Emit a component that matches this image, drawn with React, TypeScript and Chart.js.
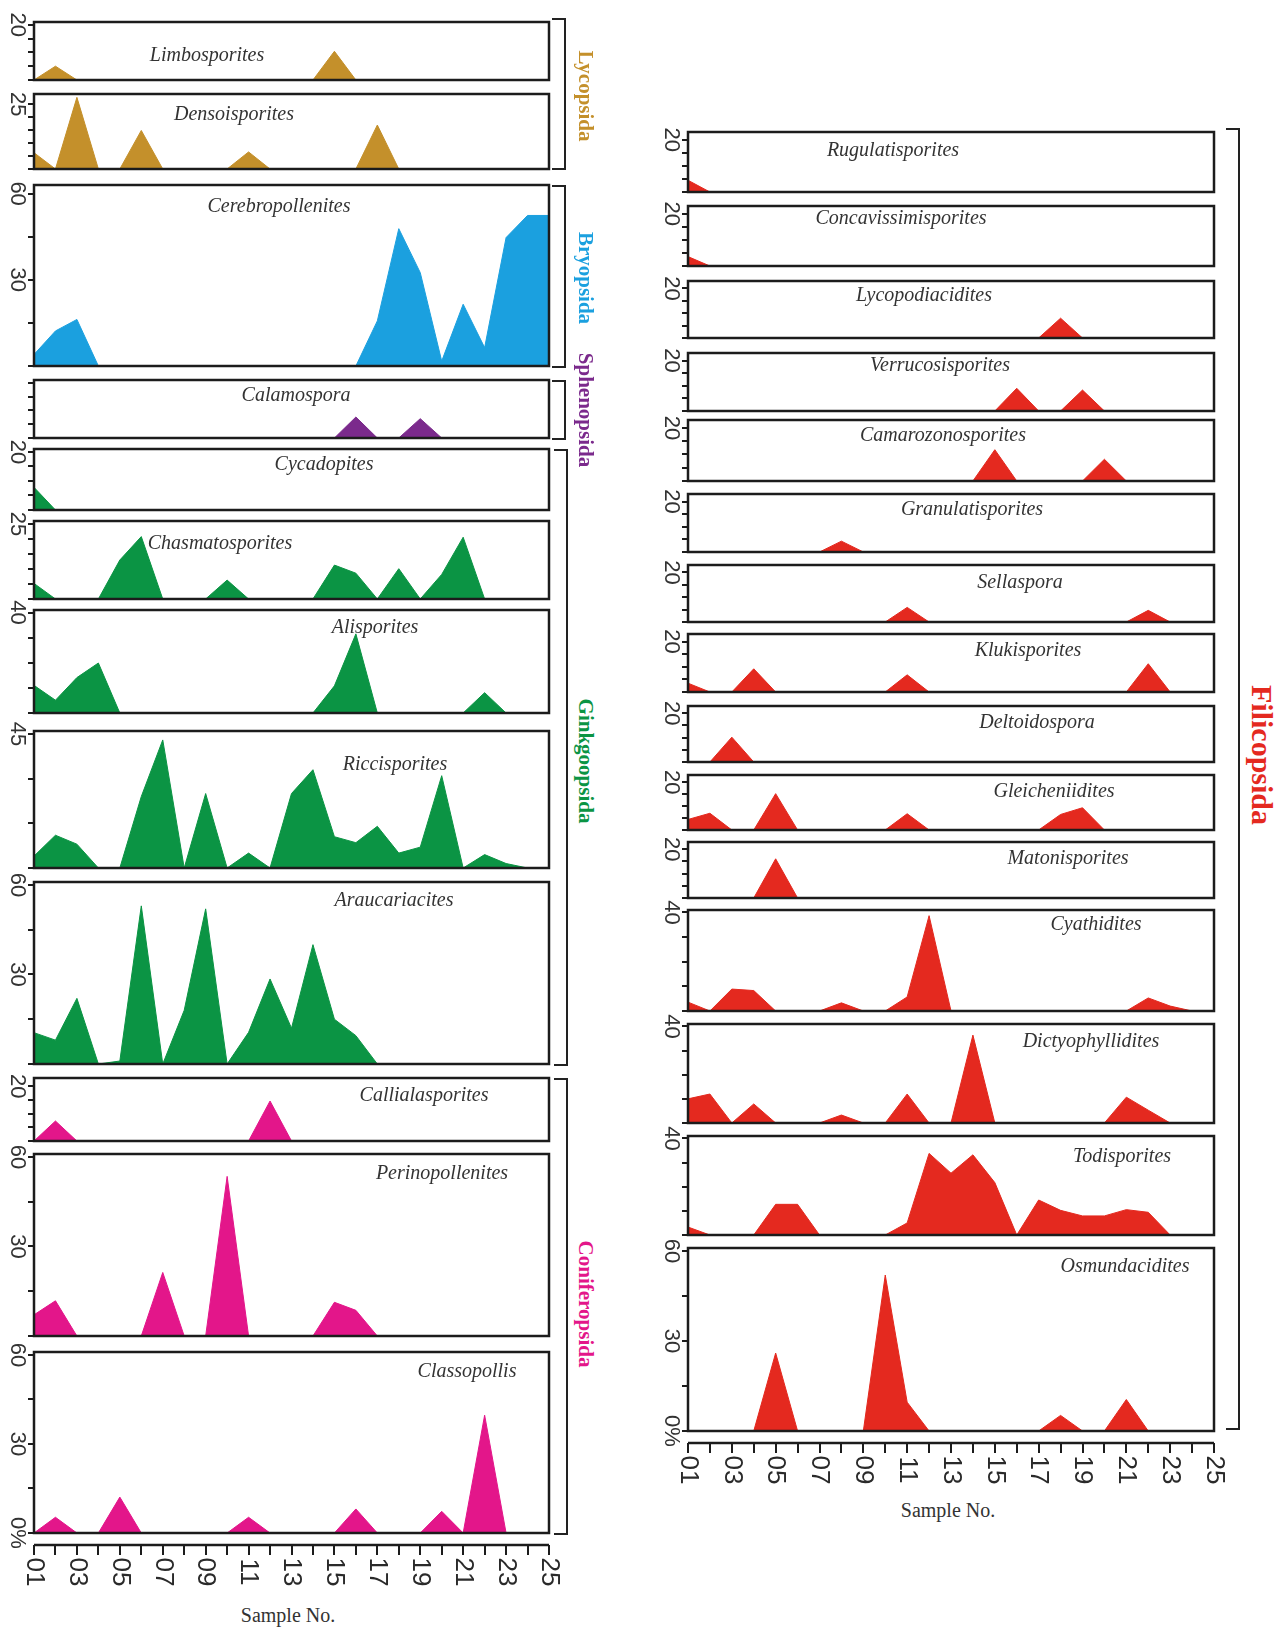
import React, { useEffect, useRef } from "react";
import { Chart, registerables } from "chart.js";

Chart.register(...registerables);

// ---------------- data ----------------
const sampleNumbers = [1, 2, 3, 4, 5, 6, 7, 8, 9, 10, 11, 12, 13, 14, 15, 16, 17, 18, 19, 20, 21, 22, 23, 24, 25];
const xTickSamples = [1, 3, 5, 7, 9, 11, 13, 15, 17, 19, 21, 23, 25];
const xTickLabels = ["01", "03", "05", "07", "09", "11", "13", "15", "17", "19", "21", "23", "25"];

// Lycopsida
const limbosporites = [0, 5, 0, 0, 0, 0, 0, 0, 0, 0, 0, 0, 0, 0, 10.4, 0, 0, 0, 0, 0, 0, 0, 0, 0, 0];
const densoisporites = [6.3, 0, 27.7, 0, 0, 14.9, 0, 0, 0, 0, 6.6, 0, 0, 0, 0, 0, 17, 0, 0, 0, 0, 0, 0, 0, 0];
// Bryopsida
const cerebropollenites = [4, 12.2, 16.2, 0, 0, 0, 0, 0, 0, 0, 0, 0, 0, 0, 0, 0, 15.7, 47.8, 32.5, 1.7, 21.5, 6.4, 44.7, 52.4, 52.4];
// Sphenopsida
const calamospora = [0, 0, 0, 0, 0, 0, 0, 0, 0, 0, 0, 0, 0, 0, 0, 7.6, 0, 0, 7, 0, 0, 0, 0, 0, 0];
// Ginkgoopsida
const cycadopites = [7.8, 0, 0, 0, 0, 0, 0, 0, 0, 0, 0, 0, 0, 0, 0, 0, 0, 0, 0, 0, 0, 0, 0, 0, 0];
const chasmatosporites = [5.2, 0, 0, 0, 13, 20.8, 0, 0, 0, 6.3, 0, 0, 0, 0, 11.3, 8.6, 0, 10.1, 0, 8.2, 20.6, 0, 0, 0, 0];
const alisporites = [11, 5.1, 14.1, 19.9, 0, 0, 0, 0, 0, 0, 0, 0, 0, 0, 10.8, 31.5, 0, 0, 0, 0, 0, 8.1, 0, 0, 0];
const riccisporites = [4, 11, 8, 0, 0, 24, 43, 0, 25, 0, 5, 0, 25, 33, 10.5, 8.5, 14, 5, 7, 31, 0, 4.5, 1.5, 0, 0];
const araucariacites = [10.5, 8, 22, 0, 1, 53, 0, 18, 52, 0, 10.6, 28.5, 12, 40, 15, 9.5, 0, 0, 0, 0, 0, 0, 0, 0, 0];
// Coniferopsida
const callialasporites = [0, 7.3, 0, 0, 0, 0, 0, 0, 0, 0, 0, 14.6, 0, 0, 0, 0, 0, 0, 0, 0, 0, 0, 0, 0, 0];
const perinopollenites = [7.1, 11.8, 0, 0, 0, 0, 21.3, 0, 0, 53.5, 0, 0, 0, 0, 11.3, 8.6, 0, 0, 0, 0, 0, 0, 0, 0, 0];
const classopollis = [0, 5.3, 0, 0, 12.1, 0, 0, 0, 0, 0, 5.3, 0, 0, 0, 0, 8.1, 0, 0, 0, 7.3, 0, 39.7, 0, 0, 0];
// Filicopsida
const rugulatisporites = [4.5, 0, 0, 0, 0, 0, 0, 0, 0, 0, 0, 0, 0, 0, 0, 0, 0, 0, 0, 0, 0, 0, 0, 0, 0];
const concavissimisporites = [3.6, 0, 0, 0, 0, 0, 0, 0, 0, 0, 0, 0, 0, 0, 0, 0, 0, 0, 0, 0, 0, 0, 0, 0, 0];
const lycopodiacidites = [0, 0, 0, 0, 0, 0, 0, 0, 0, 0, 0, 0, 0, 0, 0, 0, 0, 8, 0, 0, 0, 0, 0, 0, 0];
const verrucosisporites = [0, 0, 0, 0, 0, 0, 0, 0, 0, 0, 0, 0, 0, 0, 0, 9, 0, 0, 8.3, 0, 0, 0, 0, 0, 0];
const camarozonosporites = [0, 0, 0, 0, 0, 0, 0, 0, 0, 0, 0, 0, 0, 0, 11.8, 0, 0, 0, 0, 8.2, 0, 0, 0, 0, 0];
const granulatisporites = [0, 0, 0, 0, 0, 0, 0, 4.3, 0, 0, 0, 0, 0, 0, 0, 0, 0, 0, 0, 0, 0, 0, 0, 0, 0];
const sellaspora = [0, 0, 0, 0, 0, 0, 0, 0, 0, 0, 5.9, 0, 0, 0, 0, 0, 0, 0, 0, 0, 0, 4.7, 0, 0, 0];
const klukisporites = [3.5, 0, 0, 9.2, 0, 0, 0, 0, 0, 0, 6.8, 0, 0, 0, 0, 0, 0, 0, 0, 0, 0, 11.2, 0, 0, 0];
const deltoidospora = [0, 0, 10.2, 0, 0, 0, 0, 0, 0, 0, 0, 0, 0, 0, 0, 0, 0, 0, 0, 0, 0, 0, 0, 0, 0];
const gleicheniidites = [4.4, 7, 0, 0, 15.2, 0, 0, 0, 0, 0, 6.8, 0, 0, 0, 0, 0, 0, 6.5, 9.3, 0, 0, 0, 0, 0, 0];
const matonisporites = [0, 0, 0, 0, 16.1, 0, 0, 0, 0, 0, 0, 0, 0, 0, 0, 0, 0, 0, 0, 0, 0, 0, 0, 0, 0];
const cyathidites = [3.6, 0, 8.9, 8.3, 0, 0, 0, 3.3, 0, 0, 5.7, 38.7, 0, 0, 0, 0, 0, 0, 0, 0, 0, 5.3, 2, 0, 0];
const dictyophyllidites = [10, 12, 0, 7.9, 0, 0, 0, 3.3, 0, 0, 12, 0, 0, 36.4, 0, 0, 0, 0, 0, 0, 10.7, 5.3, 0, 0, 0];
const todisporites = [3.3, 0, 0, 0, 12.7, 12.7, 0, 0, 0, 0, 5, 33.8, 25.6, 33.2, 21.7, 0, 14.5, 10.2, 7.9, 7.9, 10.5, 9.4, 0, 0, 0];
const osmundacidites = [0, 0, 0, 0, 26, 0, 0, 0, 0, 52, 9.6, 0, 0, 0, 0, 0, 0, 5.2, 0, 0, 10.5, 0, 0, 0, 0];

// y-axis tick sets
const ticks20 = [0, 5, 10, 15, 20];
const ticks25 = [0, 5, 10, 15, 20, 25];
const ticks40 = [0, 10, 20, 30, 40];
const ticks45 = [0, 15, 30, 45];
const ticks60 = [0, 15, 30, 45, 60];

// ---------------- styles ----------------
const C_LYCO = "#C4902B";
const C_BRYO = "#1BA0DF";
const C_SPHE = "#7B2A8C";
const C_GINK = "#0B9444";
const C_CONI = "#E3168A";
const C_FILI = "#E4291F";

const LX0 = 34, LX1 = 549, RX0 = 688, RX1 = 1214;
const PAD_L = 34, PAD_R = 16, PAD_T = 16, PAD_B = 16, PAD_AXIS = 60;

type Panel = {
  name: string;
  values: number[];
  color: string;
  yMax: number;
  ticks: number[];
  labels: [number, string][];
  x0: number;
  x1: number;
  top: number;
  bottom: number;
  axis: boolean;
  nameX: number;
  nameY: number;
};

const L = (name: string, values: number[], color: string, yMax: number, ticks: number[], labels: [number, string][], top: number, bottom: number, nameX: number, nameY: number, axis = false): Panel =>
  ({ name, values, color, yMax, ticks, labels, x0: LX0, x1: LX1, top, bottom, axis, nameX, nameY });
const R = (name: string, values: number[], color: string, yMax: number, ticks: number[], labels: [number, string][], top: number, bottom: number, nameX: number, nameY: number, axis = false): Panel =>
  ({ name, values, color, yMax, ticks, labels, x0: RX0, x1: RX1, top, bottom, axis, nameX, nameY });

const panels: Panel[] = [
  L("Limbosporites", limbosporites, C_LYCO, 21, ticks20, [[20, "20"]], 22, 80, 207, 54),
  L("Densoisporites", densoisporites, C_LYCO, 29, ticks25, [[25, "25"]], 94, 169, 234, 113),
  L("Cerebropollenites", cerebropollenites, C_BRYO, 63, ticks60, [[60, "60"], [30, "30"]], 185, 366, 279, 205),
  L("Calamospora", calamospora, C_SPHE, 21, ticks20, [], 380, 438, 296, 394),
  L("Cycadopites", cycadopites, C_GINK, 21, ticks20, [[20, "20"]], 449, 510, 324, 463),
  L("Chasmatosporites", chasmatosporites, C_GINK, 26, ticks25, [[25, "25"]], 521, 599, 220, 542),
  L("Alisporites", alisporites, C_GINK, 41, ticks40, [[40, "40"]], 610, 713, 375, 626),
  L("Riccisporites", riccisporites, C_GINK, 46, ticks45, [[45, "45"]], 731, 868, 395, 763),
  L("Araucariacites", araucariacites, C_GINK, 61, ticks60, [[60, "60"], [30, "30"]], 882, 1064, 394, 899),
  L("Callialasporites", callialasporites, C_CONI, 23, ticks20, [[20, "20"]], 1078, 1141, 424, 1094),
  L("Perinopollenites", perinopollenites, C_CONI, 61, ticks60, [[60, "60"], [30, "30"]], 1154, 1336, 442, 1172),
  L("Classopollis", classopollis, C_CONI, 61, ticks60, [[60, "60"], [30, "30"], [0, "0%"]], 1352, 1533, 467, 1370, true),

  R("Rugulatisporites", rugulatisporites, C_FILI, 23, ticks20, [[20, "20"]], 132, 192, 893, 149),
  R("Concavissimisporites", concavissimisporites, C_FILI, 23, ticks20, [[20, "20"]], 206, 266, 901, 217),
  R("Lycopodiacidites", lycopodiacidites, C_FILI, 23, ticks20, [[20, "20"]], 281, 338, 924, 294),
  R("Verrucosisporites", verrucosisporites, C_FILI, 23, ticks20, [[20, "20"]], 353, 411, 940, 364),
  R("Camarozonosporites", camarozonosporites, C_FILI, 23, ticks20, [[20, "20"]], 420, 481, 943, 434),
  R("Granulatisporites", granulatisporites, C_FILI, 23, ticks20, [[20, "20"]], 494, 552, 972, 508),
  R("Sellaspora", sellaspora, C_FILI, 23, ticks20, [[20, "20"]], 565, 622, 1020, 581),
  R("Klukisporites", klukisporites, C_FILI, 23, ticks20, [[20, "20"]], 634, 692, 1028, 649),
  R("Deltoidospora", deltoidospora, C_FILI, 23, ticks20, [[20, "20"]], 706, 762, 1037, 721),
  R("Gleicheniidites", gleicheniidites, C_FILI, 23, ticks20, [[20, "20"]], 775, 830, 1054, 790),
  R("Matonisporites", matonisporites, C_FILI, 23, ticks20, [[20, "20"]], 842, 898, 1068, 857),
  R("Cyathidites", cyathidites, C_FILI, 41, ticks40, [[40, "40"]], 910, 1011, 1096, 923),
  R("Dictyophyllidites", dictyophyllidites, C_FILI, 41, ticks40, [[40, "40"]], 1024, 1123, 1091, 1040),
  R("Todisporites", todisporites, C_FILI, 41, ticks40, [[40, "40"]], 1136, 1235, 1122, 1155),
  R("Osmundacidites", osmundacidites, C_FILI, 61, ticks60, [[60, "60"], [30, "30"], [0, "0%"]], 1248, 1431, 1125, 1265, true),
];

type Group = { name: string; color: string; x: number; top: number; bottom: number; lx: number; ly: number; size: number };
const groups: Group[] = [
  { name: "Lycopsida", color: C_LYCO, x: 565, top: 18, bottom: 168, lx: 585, ly: 96, size: 21 },
  { name: "Bryopsida", color: C_BRYO, x: 565, top: 185, bottom: 366, lx: 585, ly: 278, size: 21 },
  { name: "Sphenopsida", color: C_SPHE, x: 565, top: 380, bottom: 438, lx: 585, ly: 410, size: 21 },
  { name: "Ginkgoopsida", color: C_GINK, x: 567, top: 449, bottom: 1064, lx: 585, ly: 761, size: 21 },
  { name: "Coniferopsida", color: C_CONI, x: 567, top: 1078, bottom: 1533, lx: 585, ly: 1304, size: 21 },
  { name: "Filicopsida", color: C_FILI, x: 1239, top: 128, bottom: 1428, lx: 1262, ly: 755, size: 30 },
];

const TICK_FONT = '22px "Liberation Sans", Arial, sans-serif';
const XTICK_FONT = '26px "Liberation Sans", Arial, sans-serif';

function PanelChart({ p }: { p: Panel }) {
  const ref = useRef<HTMLCanvasElement>(null);
  const padB = p.axis ? PAD_AXIS : PAD_B;
  const w = p.x1 - p.x0 + PAD_L + PAD_R;
  const h = p.bottom - p.top + PAD_T + padB;

  useEffect(() => {
    const canvas = ref.current;
    if (!canvas) return;
    const frame = {
      id: "frame",
      afterDatasetsDraw(chart: any) {
        const { ctx, chartArea: a, scales } = chart;
        const ys = scales.y;
        const xs = scales.x;
        ctx.save();
        ctx.strokeStyle = "#1c1c1c";
        ctx.lineWidth = 2.5;
        ctx.strokeRect(a.left, a.top, a.right - a.left, a.bottom - a.top);
        // y ticks
        ctx.lineWidth = 2;
        for (const t of p.ticks) {
          const py = Math.round(ys.getPixelForValue(t));
          ctx.beginPath();
          ctx.moveTo(a.left - 6, py);
          ctx.lineTo(a.left, py);
          ctx.stroke();
        }
        // y labels, rotated clockwise
        ctx.fillStyle = "#333";
        ctx.font = TICK_FONT;
        ctx.textAlign = "center";
        ctx.textBaseline = "middle";
        for (const [v, txt] of p.labels) {
          const py = ys.getPixelForValue(v);
          ctx.save();
          ctx.translate(a.left - 17, py);
          ctx.rotate(Math.PI / 2);
          ctx.fillText(txt, 0, 0);
          ctx.restore();
        }
        // x axis
        if (p.axis) {
          const ay = a.bottom + 12;
          ctx.lineWidth = 2.5;
          ctx.beginPath();
          ctx.moveTo(xs.getPixelForValue(1), ay);
          ctx.lineTo(xs.getPixelForValue(25), ay);
          ctx.stroke();
          ctx.lineWidth = 2;
          for (const s of sampleNumbers) {
            const px = Math.round(xs.getPixelForValue(s));
            ctx.beginPath();
            ctx.moveTo(px, ay);
            ctx.lineTo(px, ay + 10);
            ctx.stroke();
          }
          ctx.font = XTICK_FONT;
          ctx.fillStyle = "#2a2a2a";
          ctx.textAlign = "center";
          ctx.textBaseline = "middle";
          xTickSamples.forEach((s, i) => {
            ctx.save();
            ctx.translate(xs.getPixelForValue(s), ay + 27);
            ctx.rotate(Math.PI / 2);
            ctx.fillText(xTickLabels[i], 0, 0);
            ctx.restore();
          });
        }
        ctx.restore();
      },
    };
    const chart = new Chart(canvas, {
      type: "line",
      data: {
        datasets: [
          {
            data: sampleNumbers.map((s, i) => ({ x: s, y: p.values[i] })),
            fill: "origin",
            backgroundColor: p.color,
            borderColor: p.color,
            borderWidth: 1,
            pointRadius: 0,
            tension: 0,
          },
        ],
      },
      options: {
        responsive: false,
        maintainAspectRatio: false,
        animation: false,
        events: [],
        layout: { padding: { left: PAD_L, right: PAD_R, top: PAD_T, bottom: padB } },
        scales: {
          x: { type: "linear", min: 1, max: 25, display: false },
          y: { type: "linear", min: 0, max: p.yMax, display: false },
        },
        plugins: { legend: { display: false }, tooltip: { enabled: false } },
      },
      plugins: [frame],
    } as any);
    return () => chart.destroy();
  }, []);

  return (
    <canvas
      ref={ref}
      width={w}
      height={h}
      style={{ position: "absolute", left: p.x0 - PAD_L, top: p.top - PAD_T, width: w, height: h }}
    />
  );
}

export default function App() {
  return (
    <div style={{ position: "absolute", left: 0, top: 0, width: 1284, height: 1630, background: "#fff", overflow: "hidden" }}>
      {panels.map((p) => (
        <PanelChart key={p.name} p={p} />
      ))}
      {panels.map((p) => (
        <div
          key={p.name + "-t"}
          style={{
            position: "absolute",
            left: p.nameX,
            top: p.nameY,
            transform: "translate(-50%, -50%)",
            font: 'italic 20px "Liberation Serif", "Times New Roman", serif',
            color: "#333",
            whiteSpace: "nowrap",
          }}
        >
          {p.name}
        </div>
      ))}
      {groups.map((g) => (
        <React.Fragment key={g.name}>
          <div
            style={{
              position: "absolute",
              left: g.x - 13,
              top: g.top,
              width: 12,
              height: g.bottom - g.top - 2,
              borderTop: "2px solid #222",
              borderRight: "2px solid #222",
              borderBottom: "2px solid #222",
            }}
          />
          <div
            style={{
              position: "absolute",
              left: g.lx,
              top: g.ly,
              transform: "translate(-50%, -50%)",
              writingMode: "vertical-rl",
              font: `bold ${g.size}px "Liberation Serif", "Times New Roman", serif`,
              color: g.color,
              whiteSpace: "nowrap",
            }}
          >
            {g.name}
          </div>
        </React.Fragment>
      ))}
      <div style={{ position: "absolute", left: 288, top: 1615, transform: "translate(-50%, -50%)", font: '20px "Liberation Serif", "Times New Roman", serif', color: "#333", whiteSpace: "nowrap" }}>
        Sample No.
      </div>
      <div style={{ position: "absolute", left: 948, top: 1510, transform: "translate(-50%, -50%)", font: '20px "Liberation Serif", "Times New Roman", serif', color: "#333", whiteSpace: "nowrap" }}>
        Sample No.
      </div>
    </div>
  );
}
